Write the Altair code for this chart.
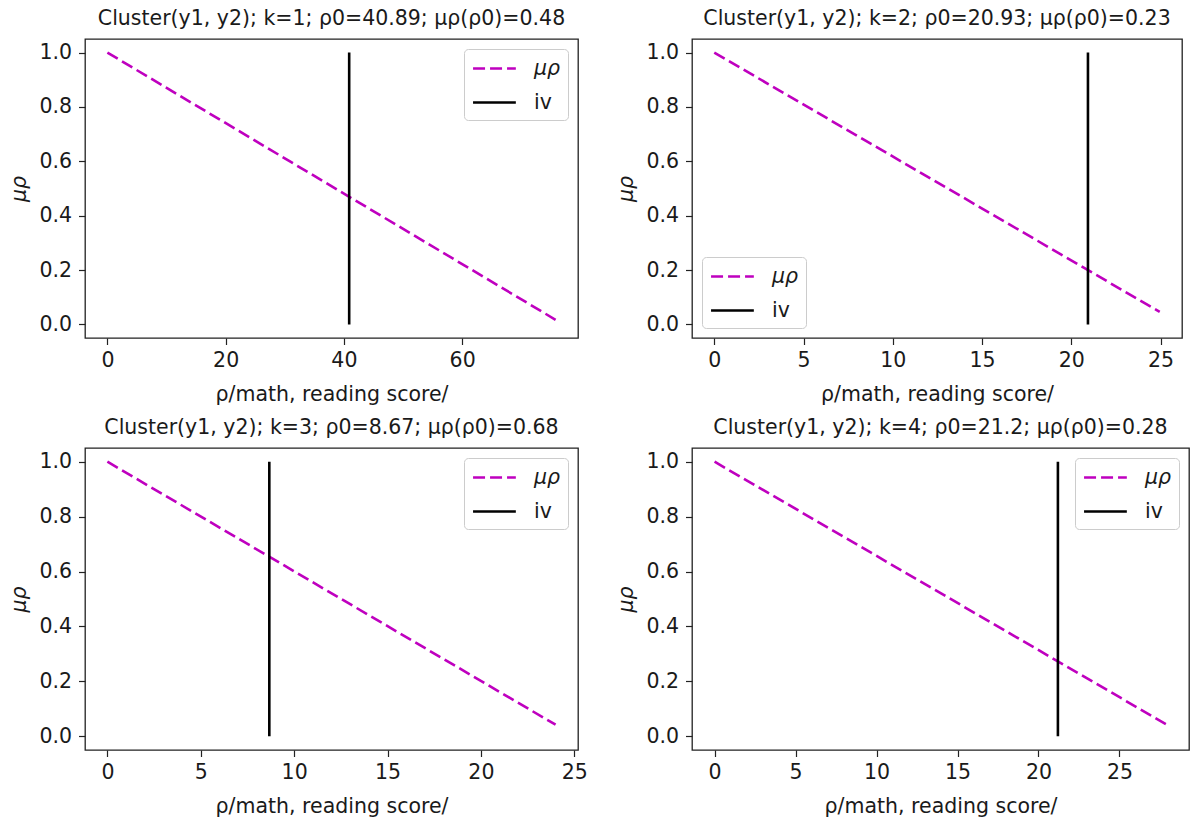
import altair as alt
import pandas as pd

# ---- data ----
titles = [
    "Cluster(y1, y2); k=1; ρ0=40.89; μρ(ρ0)=0.48",
    "Cluster(y1, y2); k=2; ρ0=20.93; μρ(ρ0)=0.23",
    "Cluster(y1, y2); k=3; ρ0=8.67; μρ(ρ0)=0.68",
    "Cluster(y1, y2); k=4; ρ0=21.2; μρ(ρ0)=0.28",
]
rho0 = [40.89, 20.93, 8.67, 21.2]
line_x_start = [0.0, 0.0, 0.0, 0.0]
line_y_start = [1.0, 1.0, 1.0, 1.0]
line_x_end = [75.8, 24.95, 24.0, 27.9]
line_y_end = [0.017, 0.046, 0.042, 0.043]
iv_low = [0.0, 0.0, 0.0, 0.0]
iv_high = [1.0, 1.0, 1.0, 1.0]
x_ticks = [
    [0, 20, 40, 60],
    [0, 5, 10, 15, 20, 25],
    [0, 5, 10, 15, 20, 25],
    [0, 5, 10, 15, 20, 25],
]
y_ticks = [0.0, 0.2, 0.4, 0.6, 0.8, 1.0]
series_names = ["μρ", "iv"]
series_colors = ["#bf00bf", "#000000"]
series_dash = [[12, 5], [1, 0]]
legend_orient = ["top-right", "bottom-left", "top-right", "top-right"]
panel_w = [493, 490, 493, 497]
panel_h = [299, 299, 302, 302]

FONT = "DejaVu Sans"
FS = 20.5


def panel(i):
    line_df = pd.DataFrame({
        "x": [line_x_start[i], line_x_end[i]],
        "y": [line_y_start[i], line_y_end[i]],
        "s": [series_names[0]] * 2,
    })
    rule_df = pd.DataFrame({
        "x": [rho0[i]], "y": [iv_low[i]], "y2": [iv_high[i]], "s": [series_names[1]],
    })
    xmin = min(line_x_start[i], rho0[i])
    xmax = max(line_x_end[i], rho0[i])
    rng = xmax - xmin
    xs = alt.Scale(domain=[xmin - 0.05 * rng, xmax + 0.05 * rng], nice=False, zero=False)
    ys = alt.Scale(domain=[-0.05, 1.05], nice=False, zero=False)
    xaxis = alt.Axis(values=x_ticks[i], format="d", title="ρ/math, reading score/")
    yaxis = alt.Axis(values=y_ticks, format=".1f", title="μρ", titleFontStyle="italic")
    legend = alt.Legend(
        title=None,
        orient=legend_orient[i],
        offset=10,
        symbolType="M-0.95,0H2.94",
        symbolSize=484,
        symbolStrokeWidth=2.6,
        rowPadding=11,
        padding=7,
        labelOffset=38,
        labelFont=FONT,
        labelFontSize=FS,
        labelColor="#1a1a1a",
        labelFontStyle={"expr": "datum.label == 'iv' ? 'normal' : 'italic'"},
        fillColor="rgba(255,255,255,0.8)",
        strokeColor="#cccccc",
        cornerRadius=4,
    )
    color = alt.Color("s:N", scale=alt.Scale(domain=series_names, range=series_colors), legend=legend)
    dash = alt.StrokeDash("s:N", scale=alt.Scale(domain=series_names, range=series_dash), legend=legend)
    line = alt.Chart(line_df).mark_line(strokeWidth=2.6, clip=True).encode(
        x=alt.X("x:Q", scale=xs, axis=xaxis),
        y=alt.Y("y:Q", scale=ys, axis=yaxis),
        color=color,
        strokeDash=dash,
    )
    rule = alt.Chart(rule_df).mark_rule(strokeWidth=2.6).encode(
        x=alt.X("x:Q", scale=xs, axis=xaxis),
        y=alt.Y("y:Q", scale=ys, axis=yaxis),
        y2="y2:Q",
        color=color,
        strokeDash=dash,
    )
    return alt.layer(line, rule).properties(
        width=panel_w[i], height=panel_h[i],
        title=alt.TitleParams(titles[i]),
    )


panels = [panel(i) for i in range(4)]

chart = alt.concat(
    *panels, columns=2, spacing={"row": 110, "column": 114}, bounds="flush"
).properties(
    padding={"left": 9, "top": 7, "right": 0, "bottom": 0},
    background="white",
).configure_view(
    stroke="#222222", strokeWidth=1.3
).configure_axis(
    grid=False,
    domain=False,
    tickColor="#222222",
    tickWidth=1.2,
    tickSize=6.5,
    labelFont=FONT,
    labelFontSize=FS,
    labelColor="#1a1a1a",
    labelPadding=6,
    titleFont=FONT,
    titleFontSize=FS,
    titleFontWeight="normal",
    titleColor="#1a1a1a",
).configure_axisY(
    titlePadding=9,
    labelPadding=7,
).configure_axisX(
    titlePadding=13,
).configure_title(
    font=FONT, fontSize=FS, fontWeight="normal", color="#1a1a1a", offset=10, anchor="middle"
)

chart.save("out.html", embed_options={"renderer": "svg", "actions": False})
